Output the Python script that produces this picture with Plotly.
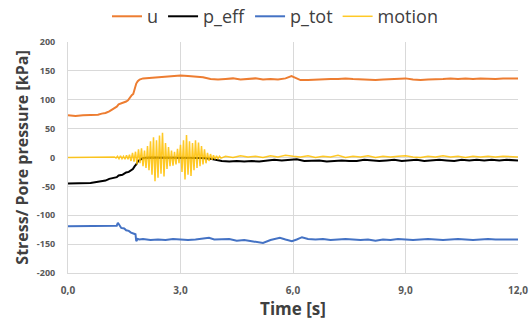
import plotly.graph_objects as go

# ---------------- data ----------------
u_t = [0.0, 0.2, 0.4, 0.6, 0.8, 0.9, 1.0, 1.1, 1.2, 1.3, 1.35, 1.45, 1.5, 1.55, 1.6, 1.65, 1.7, 1.74, 1.78, 1.82, 1.86, 1.91, 2.0,
       2.2, 2.4, 2.6, 2.8, 3.0, 3.2, 3.4, 3.6, 3.8, 4.0, 4.2, 4.4, 4.6, 4.8, 5.0, 5.2, 5.4, 5.6, 5.8, 5.96, 6.1, 6.2,
       6.4, 6.6, 6.8, 7.0, 7.2, 7.4, 7.6, 7.8, 8.0, 8.2, 8.4, 8.6, 8.8, 9.0, 9.2, 9.4, 9.6, 9.8, 10.0, 10.2, 10.4,
       10.6, 10.8, 11.0, 11.2, 11.4, 11.6, 11.8, 12.0]
u_v = [73, 72, 73, 73, 74, 76, 77, 80, 84, 88, 92, 94, 95, 97, 99, 104, 108, 110, 122, 128, 132, 135, 137,
       138, 139, 140, 141, 142, 141, 140, 139, 136, 135, 136, 137, 135, 136, 137, 135, 136, 135, 137, 141, 137, 134,
       134, 135, 135, 136, 136, 137, 136, 135, 135, 134, 135, 136, 136, 137, 135, 134, 135, 135, 136, 137, 136,
       137, 136, 137, 136, 136, 137, 137, 137]

pe_t = [0.0, 0.3, 0.6, 0.8, 1.0, 1.1, 1.2, 1.3, 1.35, 1.45, 1.5, 1.55, 1.62, 1.7, 1.73, 1.78, 1.82, 1.87, 1.95, 2.0,
        2.2, 2.4, 2.6, 2.8, 3.0, 3.2, 3.4, 3.6, 3.8, 3.95, 4.1, 4.3, 4.5, 4.7, 4.9, 5.1, 5.3, 5.5, 5.7, 5.9, 6.1,
        6.3, 6.5, 6.7, 6.9, 7.1, 7.3, 7.5, 7.7, 7.9, 8.1, 8.3, 8.5, 8.7, 8.9, 9.1, 9.3, 9.5, 9.7, 9.9, 10.1,
        10.3, 10.5, 10.7, 10.9, 11.1, 11.3, 11.5, 11.7, 11.9, 12.0]
pe_v = [-45, -45, -44, -42, -40, -37, -36, -34, -31, -30, -28, -26, -25, -21, -20, -15, -12, -6, -2, -1,
        0, 0, -1, 0, -1, 0, -1, -1, -2, -4, -6, -7, -6, -7, -6, -7, -5, -4, -5, -4, -3,
        -6, -6, -5, -7, -6, -5, -6, -6, -4, -5, -6, -5, -4, -6, -5, -4, -6, -5, -4, -5,
        -6, -4, -5, -4, -5, -4, -5, -4, -5, -5]

pt_t = [0.0, 0.3, 0.6, 0.9, 1.2, 1.3, 1.33, 1.38, 1.42, 1.5, 1.55, 1.62, 1.68, 1.76, 1.8, 1.82, 1.86, 1.9, 2.0,
        2.2, 2.4, 2.6, 2.8, 3.0, 3.2, 3.4, 3.6, 3.76, 3.9, 4.1, 4.3, 4.5, 4.7, 4.9, 5.05, 5.2, 5.4, 5.65, 5.8,
        5.97, 6.1, 6.24, 6.4, 6.6, 6.8, 7.0, 7.2, 7.4, 7.6, 7.8, 8.0, 8.2, 8.4, 8.6, 8.8, 9.0, 9.2, 9.4, 9.6,
        9.8, 10.0, 10.2, 10.4, 10.6, 10.8, 11.0, 11.2, 11.4, 11.6, 11.8, 12.0]
pt_v = [-119, -119, -119, -119, -119, -118, -113, -119, -122, -123, -126, -127, -130, -132, -133, -145, -141, -142, -141,
        -143, -142, -143, -141, -142, -143, -142, -141, -139, -142, -142, -141, -144, -143, -145, -146, -148, -143, -139, -142,
        -145, -142, -138, -141, -142, -141, -143, -142, -141, -142, -143, -142, -144, -142, -143, -141, -142, -143, -142, -141,
        -142, -143, -142, -141, -142, -143, -142, -141, -142, -142, -143, -142]

mo_t = [0.0, 0.6, 1.2, 1.24, 1.28, 1.32, 1.36, 1.40, 1.44, 1.48, 1.52, 1.56, 1.60, 1.64, 1.68, 1.72, 1.76, 1.80,
        1.84, 1.88, 1.92, 1.96, 2.00, 2.04, 2.08, 2.12, 2.16, 2.20, 2.24, 2.28, 2.32, 2.36, 2.40, 2.44, 2.48,
        2.52, 2.56, 2.60, 2.64, 2.68, 2.72, 2.76, 2.80, 2.84, 2.88, 2.92, 2.96, 3.00, 3.04, 3.08, 3.12, 3.16,
        3.20, 3.24, 3.28, 3.32, 3.36, 3.40, 3.44, 3.48, 3.52, 3.56, 3.60, 3.64, 3.68, 3.72, 3.76, 3.80, 3.84,
        3.88, 3.92, 3.96, 4.00, 4.04, 4.08, 4.2, 4.4, 4.6, 4.8, 5.0, 5.2, 5.4, 5.6, 5.8, 6.0, 6.2, 6.4, 6.6,
        6.8, 7.0, 7.2, 7.4, 7.6, 7.8, 8.0, 8.2, 8.4, 8.6, 8.8, 9.0, 9.2, 9.4, 9.6, 9.8, 10.0, 10.2, 10.4, 10.6,
        10.8, 11.0, 11.2, 11.4, 11.6, 11.8, 12.0]
mo_v = [0, 0, 0, 1, -1, 2, -2, 3, -2, 2, -3, 4, -3, 5, -6, 8, -7, 10,
        -12, 14, -10, 16, -15, 12, -18, 20, -22, 28, -30, 35, -41, 30, -35, 38, -28,
        43, -33, 25, -20, 18, -15, 12, -14, 10, -12, 15, -10, 22, -25, 30, -38, 39,
        -30, 28, -32, 25, -22, 30, -18, 26, -15, 20, -12, 14, -10, 8, -6, 6, -4,
        4, -3, 3, -2, 2, -1, 2, 0, 3, 1, 2, 0, 3, 1, 4, 2, 1, 3, 0,
        2, 1, 4, 0, 2, 1, 3, 0, 2, 1, 2, 3, 1, 0, 2, 1, 3, 1, 2, 0,
        2, 1, 2, 1, 2, 1, 1]

y_ticks = [200, 150, 100, 50, 0, -50, -100, -150, -200]
y_tick_text = ["200", "150", "100", "50", "0", "-50", "-100", "-150", "-200"]
x_ticks = [0, 3, 6, 9, 12]
x_tick_text = ["0,0", "3,0", "6,0", "9,0", "12,0"]

# ---------------- figure ----------------
fig = go.Figure()
fig.add_trace(go.Scatter(x=u_t, y=u_v, name="u", mode="lines",
                         line=dict(color="#ED7D31", width=2)))
fig.add_trace(go.Scatter(x=pe_t, y=pe_v, name="p_eff", mode="lines",
                         line=dict(color="#000000", width=2)))
fig.add_trace(go.Scatter(x=pt_t, y=pt_v, name="p_tot", mode="lines",
                         line=dict(color="#4472C4", width=2)))
fig.add_trace(go.Scatter(x=mo_t, y=mo_v, name="motion", mode="lines",
                         line=dict(color="#FFC000", width=1.5), opacity=0.85))

fig.update_layout(
    width=532, height=323,
    margin=dict(l=68, r=14, t=42, b=50, autoexpand=False),
    paper_bgcolor="white", plot_bgcolor="white",
    font=dict(family="Open Sans", color="#404040"),
    showlegend=True,
    legend=dict(orientation="h", x=0.46, xanchor="center", y=1.11, yanchor="middle",
                font=dict(size=18, color="#404040"), itemwidth=30, tracegroupgap=0,
                bgcolor="rgba(0,0,0,0)"),
    xaxis=dict(range=[0, 12], tickvals=x_ticks, ticktext=x_tick_text,
               showgrid=True, gridcolor="#D9D9D9", gridwidth=1,
               showline=True, linecolor="#D9D9D9", linewidth=1,
               zeroline=False, ticks="", ticklabelstandoff=8,
               tickfont=dict(size=10, color="#595959", weight="bold"),
               title=dict(text="<b>Time [s]</b>", font=dict(size=17, color="#404040"), standoff=1)),
    yaxis=dict(range=[-200, 200], tickvals=y_ticks, ticktext=y_tick_text,
               showgrid=True, gridcolor="#D9D9D9", gridwidth=1,
               showline=True, linecolor="#D9D9D9", linewidth=1,
               zeroline=False, ticks="", ticklabelstandoff=10,
               tickfont=dict(size=9, color="#595959", weight="bold"),
               title=dict(text="<b>Stress/ Pore pressure [kPa]</b>", font=dict(size=16, color="#404040"), standoff=4)),
)

fig.write_html("out.html")
